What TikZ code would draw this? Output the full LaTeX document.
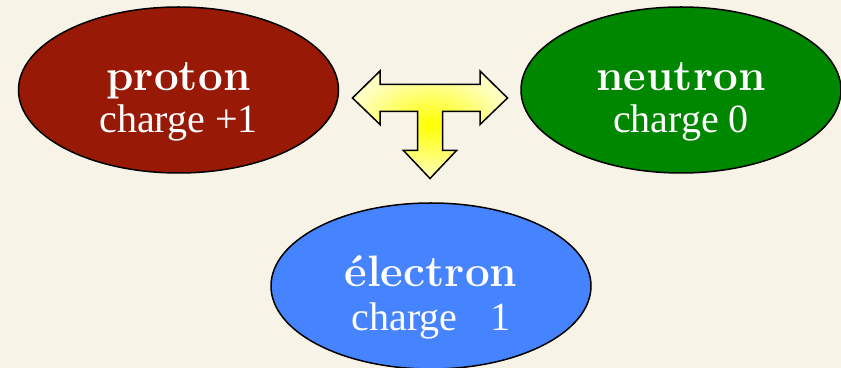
\documentclass[tikz,border=0pt]{standalone}
\usepackage{fontspec}
\newfontfamily\chargefont{Liberation Serif}
\usetikzlibrary{shapes.geometric, positioning}
\definecolor{parchment}{HTML}{F8F3E7}
\definecolor{protonred}{HTML}{981A06}
\definecolor{neutrongreen}{HTML}{008700}
\definecolor{electronblue}{HTML}{4684FF}

\begin{document}
\begin{tikzpicture}[x=0.5pt, y=-0.5pt, line join=miter,
    particle/.style={draw=black, line width=0.75pt, ellipse, minimum width=160pt, minimum height=83pt, inner sep=0pt},
    particlename/.style={text=white, font=\fontsize{22}{26}\selectfont\bfseries, anchor=base, inner sep=0pt},
    chargetext/.style={text=white, font=\chargefont\fontsize{20}{24}\selectfont, anchor=base, inner sep=0pt}]
    % page and background
    \fill[parchment] (0,0) rectangle (841,368);
    \useasboundingbox (0,0) rectangle (841,368);

    % the three particles
    \node[particle, fill=protonred] (proton) at (178.5,90) {};
    \node[particlename] (proton name) at (178.5,91) {proton};
    \node[chargetext] (proton charge) at (178.5,133) {charge +1};

    \node[particle, fill=neutrongreen] (neutron) at (681,90) {};
    \node[particlename] (neutron name) at (681,91) {neutron};
    \node[chargetext] (neutron charge) at (681,133) {charge 0};

    \node[particle, fill=electronblue] (electron) at (431,286) {};
    \node[particlename] (electron name) at (431,287) {électron};
    \node[chargetext] (electron charge) at (431,331) {charge \phantom{+}1};

    % T-shaped arrow between them
    \shade[draw=black, line width=0.75pt, inner color=yellow, outer color=yellow!25!white]
        (352.5,98) -- (380,71) -- (380,84.5) -- (480,84.5) -- (480,71) -- (507.5,98)
        -- (480,124.5) -- (480,111.5) -- (442.5,111.5) -- (442.5,150.5) -- (456.5,150.5)
        -- (430,178.5) -- (403.5,150.5) -- (417.5,150.5) -- (417.5,111.5) -- (380,111.5)
        -- (380,124.5) -- cycle;
\end{tikzpicture}
\end{document}
